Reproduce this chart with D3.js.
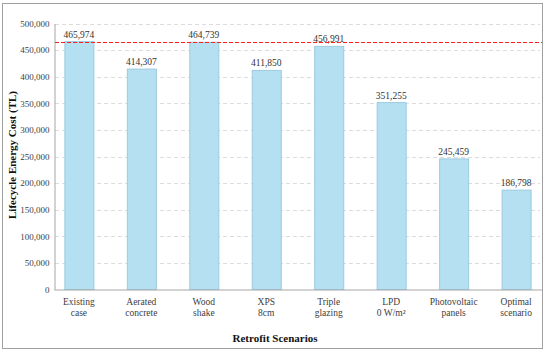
<!DOCTYPE html>
<html>
<head>
<meta charset="utf-8">
<script src="https://cdn.jsdelivr.net/npm/d3@7"></script>
<style>
body { margin: 0; background: #fff; }
svg { display: block; }
</style>
</head>
<body>
<svg id="chart"></svg>
<script>
// Data
let scenarios = [
    ["Existing", "case"],
    ["Aerated", "concrete"],
    ["Wood", "shake"],
    ["XPS", "8cm"],
    ["Triple", "glazing"],
    ["LPD", "0 W/m²"],
    ["Photovoltaic", "panels"],
    ["Optimal", "scenario"]
]
let costs = [465974, 414307, 464739, 411850, 456991, 351255, 245459, 186798]
let yTicks = [0, 50000, 100000, 150000, 200000, 250000, 300000, 350000, 400000, 450000, 500000]
let baseline = 465974

let serif = '"Liberation Serif", "Times New Roman", serif'

// Graph Dimensions
let width = 550
let height = 354
let margin = { left: 55, right: 10, top: 23.5, bottom: 64.5 }

let svg = d3.select('#chart')
    .attr('width', width)
    .attr('height', height)

// outer frame
svg.append('rect')
    .attr('x', 2.5)
    .attr('y', 3.5)
    .attr('width', 540)
    .attr('height', 345)
    .attr('fill', 'white')
    .attr('stroke', '#a0a0a0')
    .attr('stroke-width', 1)

// Scales
let scale = {
    x: d3.scaleBand()
        .domain(d3.range(scenarios.length))
        .range([55, 540])
        .paddingInner(0.535)
        .paddingOuter(0.15),
    y: d3.scaleLinear()
        .domain([0, 500000])
        .range([height - margin.bottom, margin.top])
}

// Gridlines
svg.append('g')
    .selectAll('line')
    .data(yTicks.filter(d => d > 0))
    .enter()
    .append('line')
    .attr('x1', 55)
    .attr('x2', 540)
    .attr('y1', d => Math.round(scale.y(d)) + 0.5)
    .attr('y2', d => Math.round(scale.y(d)) + 0.5)
    .attr('stroke', '#dcdcdc')
    .attr('stroke-width', 1)
    .attr('stroke-dasharray', '4,3')

// Y axis
let yAxis = d3.axisLeft(scale.y)
    .tickValues(yTicks)
    .tickFormat(d3.format(','))
    .tickSize(0)
    .tickPadding(5)

let gy = svg.append('g')
    .attr('transform', `translate(54.5,0)`)
    .call(yAxis)
gy.select('.domain').attr('stroke', '#a6a6a6')
gy.selectAll('text')
    .style('font-family', serif)
    .style('font-size', '9px')
    .attr('fill', '#404040')

// Bars
svg.selectAll('rect.bar')
    .data(costs)
    .enter()
    .append('rect')
    .attr('class', 'bar')
    .attr('x', (d, i) => scale.x(i) + 0.5)
    .attr('y', d => scale.y(d))
    .attr('width', scale.x.bandwidth())
    .attr('height', d => scale.y(0) - scale.y(d))
    .attr('fill', '#b4e0f2')
    .attr('stroke', '#9ccbdf')
    .attr('stroke-width', 1)

// Value labels
svg.selectAll('text.value')
    .data(costs)
    .enter()
    .append('text')
    .attr('class', 'value')
    .attr('x', (d, i) => scale.x(i) + scale.x.bandwidth() / 2)
    .attr('y', d => scale.y(d) - 4)
    .attr('text-anchor', 'middle')
    .attr('font-family', serif)
    .attr('font-size', 9.5)
    .attr('fill', '#333')
    .text(d => d3.format(',')(d))

// X axis line
svg.append('line')
    .attr('x1', 54.5)
    .attr('x2', 542.5)
    .attr('y1', scale.y(0) + 0.5)
    .attr('y2', scale.y(0) + 0.5)
    .attr('stroke', '#a6a6a6')

// X labels
let xl = svg.selectAll('text.xlab')
    .data(scenarios)
    .enter()
    .append('text')
    .attr('class', 'xlab')
    .attr('text-anchor', 'middle')
    .attr('font-family', serif)
    .attr('font-size', 9.5)
    .attr('fill', '#404040')
xl.selectAll('tspan')
    .data((d, i) => d.map(t => ({ t: t, i: i })))
    .enter()
    .append('tspan')
    .attr('x', d => scale.x(d.i) + scale.x.bandwidth() / 2)
    .attr('y', (d, j) => 305 + j * 11)
    .text(d => d.t)

// Baseline (existing case) dashed red line
svg.append('line')
    .attr('x1', 55)
    .attr('x2', 542)
    .attr('y1', Math.round(scale.y(baseline)) + 0.5)
    .attr('y2', Math.round(scale.y(baseline)) + 0.5)
    .attr('stroke', '#ff2020')
    .attr('stroke-width', 1.2)
    .attr('stroke-dasharray', '4,2')

// Y label
svg.append('text')
    .attr('x', -155)
    .attr('y', 16)
    .attr('text-anchor', 'middle')
    .attr('transform', 'rotate(270)')
    .attr('font-family', serif)
    .attr('font-weight', 'bold')
    .attr('font-size', 11)
    .attr('fill', '#111')
    .text('Lifecycle Energy Cost (TL)')

// X label
svg.append('text')
    .attr('x', 275)
    .attr('y', 342)
    .attr('text-anchor', 'middle')
    .attr('font-family', serif)
    .attr('font-weight', 'bold')
    .attr('font-size', 11)
    .attr('fill', '#111')
    .text('Retrofit Scenarios')
</script>
</body>
</html>
